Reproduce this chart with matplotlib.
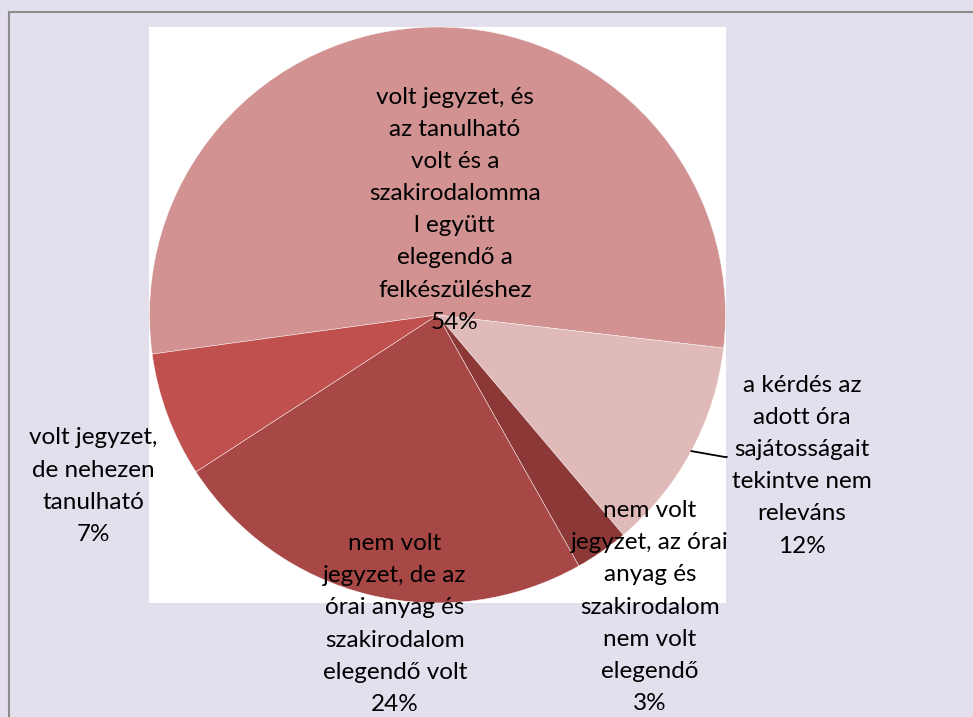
import numpy as np
import matplotlib
matplotlib.use('Agg')
import matplotlib.pyplot as plt
from matplotlib.lines import Line2D

plt.rcParams['font.family'] = ['Lato', 'DejaVu Sans']

# data
labels = [
    "volt jegyzet, és\naz tanulható\nvolt és a\nszakirodalomma\nl együtt\nelegendő a\nfelkészüléshez",
    "a kérdés az\nadott óra\nsajátosságait\ntekintve nem\nreleváns",
    "nem volt\njegyzet, az órai\nanyag és\nszakirodalom\nnem volt\nelegendő",
    "nem volt\njegyzet, de az\nórai anyag és\nszakirodalom\nelegendő volt",
    "volt jegyzet,\nde nehezen\ntanulható",
]
values = [54, 12, 3, 24, 7]
colors = ['#D19291', '#E0BAB9', '#8C3837', '#A84846', '#C0504D']

# label placement (data coords, pie radius = 1)
label_pos = [(0.06, 0.365), (1.266, -0.524), (0.738, -1.014), (-0.148, -1.073), (-1.196, -0.594)]

fig = plt.figure(figsize=(9.73, 7.17), dpi=100)
fig.patch.set_facecolor('#E4DFEC')

# outer chart border (top and left visible)
fig.add_artist(Line2D([9/973, 9/973], [0, 1 - 12/717], color='#8C8C8C', lw=1.5))
fig.add_artist(Line2D([9/973, 1], [1 - 12/717, 1 - 12/717], color='#8C8C8C', lw=1.5))

ax = fig.add_axes([149/973, 1 - 603/717, 577/973, 576/717])

# 54% slice begins on the left side and runs clockwise
wedges, _ = ax.pie(values, colors=colors, startangle=187.8, counterclock=False,
                   radius=1, frame=True,
                   wedgeprops=dict(edgecolor='white', linewidth=0.3))
ax.set_facecolor('white')
for s in ax.spines.values():
    s.set_visible(False)
ax.set_xticks([])
ax.set_yticks([])
ax.set_xlim(-1, 1)
ax.set_ylim(-1, 1)
ax.set_aspect('equal')

for lab, v, (x, y) in zip(labels, values, label_pos):
    ax.text(x, y, f"{lab}\n{v}%", ha='center', va='center', fontsize=17.5,
            color='black', linespacing=1.65)

# leader line for the 12% slice
w = wedges[1]
mid = np.deg2rad((w.theta1 + w.theta2) / 2)
ax.annotate('', xy=(np.cos(mid), np.sin(mid)), xytext=((727 - 437.5) / 288, (315 - 457) / 288),
            arrowprops=dict(arrowstyle='-', color='black', lw=1.3,
                            connectionstyle='angle,angleA=0,angleB=-10,rad=0', shrinkA=0, shrinkB=0))

fig.savefig('out.png', dpi=100, facecolor=fig.get_facecolor())
